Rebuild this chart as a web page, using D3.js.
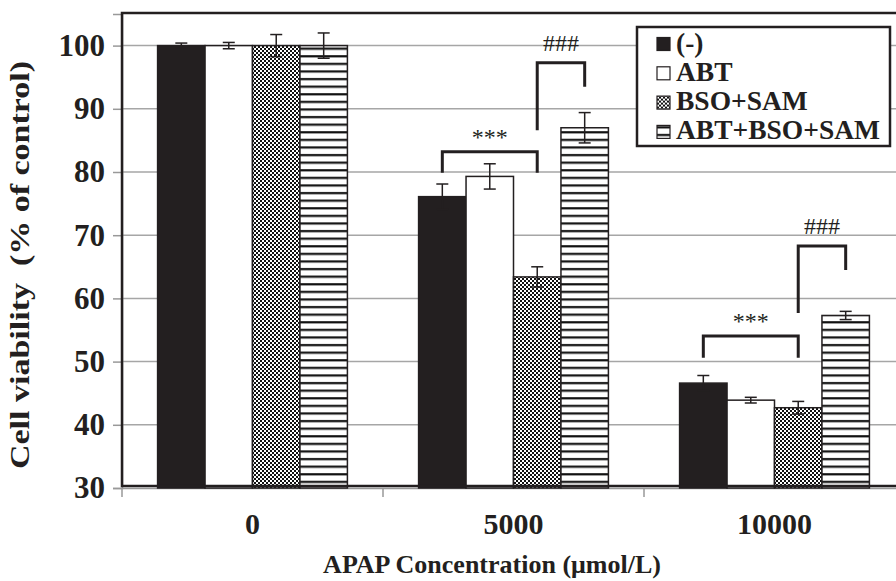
<!DOCTYPE html>
<html lang="en">

<head>
  <meta charset="utf-8">
  <title>Cell viability vs APAP concentration</title>
  <script src="https://cdnjs.cloudflare.com/ajax/libs/d3/7.6.1/d3.min.js"></script>
  <style>
    body { margin: 0; background: white; }
    svg { display: block; }
    text { font-family: 'Liberation Serif', 'Times New Roman', serif; }
  </style>
</head>

<body>

  <figure id="chart" style="margin:0"></figure>

  <script>
    // data

    const categories = ['0', '5000', '10000'];
    const seriesNames = ['(-)', 'ABT', 'BSO+SAM', 'ABT+BSO+SAM'];

    const valuesNone = [100, 76.1, 46.6];
    const valuesABT = [100, 79.3, 43.9];
    const valuesBSO = [100, 63.4, 42.7];
    const valuesAll = [100, 87.0, 57.3];

    const errorsNone = [0.4, 2.0, 1.2];
    const errorsABT = [0.5, 2.0, 0.45];
    const errorsBSO = [1.75, 1.6, 1.0];
    const errorsAll = [2.0, 2.4, 0.65];

    const yTickValues = [30, 40, 50, 60, 70, 80, 90, 100];

    // significance brackets: group, left bar, right bar, label, top, left leg end, right leg end
    const bracketGroups = ['5000', '5000', '10000', '10000'];
    const bracketFrom = ['(-)', 'BSO+SAM', '(-)', 'BSO+SAM'];
    const bracketTo = ['BSO+SAM', 'ABT+BSO+SAM', 'BSO+SAM', 'ABT+BSO+SAM'];
    const bracketLabels = ['***', '###', '***', '###'];
    const bracketTop = [83.2, 97.3, 54.05, 68.3];
    const bracketLeftEnd = [79.9, 86.6, 50.6, 57.7];
    const bracketRightEnd = [79.9, 93.5, 50.6, 64.5];

    const allValues = [valuesNone, valuesABT, valuesBSO, valuesAll];
    const allErrors = [errorsNone, errorsABT, errorsBSO, errorsAll];

    const data = [];
    categories.forEach((cat, i) => {
      seriesNames.forEach((name, j) => {
        data.push({ category: cat, series: name, value: allValues[j][i], error: allErrors[j][i] });
      });
    });

    createChart('figure#chart', data);

    function createChart(elementId, data) {

      const width = 896;
      const height = 581;
      const plot = { left: 122, right: 905, top: 14, bottom: 488 };
      const ink = '#231f20';

      const svg = d3.select(elementId)
        .append('svg')
        .attr('width', width)
        .attr('height', height);

      // fill patterns

      const defs = svg.append('defs');

      const checker = defs.append('pattern')
        .attr('id', 'checker')
        .attr('patternUnits', 'userSpaceOnUse')
        .attr('width', 4)
        .attr('height', 4);
      checker.append('rect').attr('width', 4).attr('height', 4).attr('fill', 'white');
      checker.append('rect').attr('width', 2).attr('height', 2).attr('fill', '#111');
      checker.append('rect').attr('x', 2).attr('y', 2).attr('width', 2).attr('height', 2).attr('fill', '#111');

      const stripes = defs.append('pattern')
        .attr('id', 'stripes')
        .attr('patternUnits', 'userSpaceOnUse')
        .attr('width', 10)
        .attr('height', 7.6);
      stripes.append('rect').attr('width', 10).attr('height', 7.6).attr('fill', 'white');
      stripes.append('rect').attr('y', 2).attr('width', 10).attr('height', 2.2).attr('fill', '#111');

      const fills = {
        '(-)': ink,
        'ABT': 'white',
        'BSO+SAM': 'url(#checker)',
        'ABT+BSO+SAM': 'url(#stripes)'
      };

      // scales

      const xScale = d3.scaleBand()
        .domain(categories)
        .range([plot.left, plot.right])
        .padding(0);

      const seriesScale = d3.scaleBand()
        .domain(seriesNames)
        .range([0, xScale.bandwidth()])
        .paddingInner(0)
        .paddingOuter(0.75);

      const yScale = d3.scaleLinear()
        .domain([30, 105])
        .range([plot.bottom, plot.top]);

      const barCenter = (cat, name) => xScale(cat) + seriesScale(name) + seriesScale.bandwidth() / 2;

      // grid lines

      svg.append('g')
        .selectAll('line')
        .data(yTickValues.filter(v => v > 30))
        .enter()
        .append('line')
        .attr('x1', plot.left)
        .attr('x2', plot.right)
        .attr('y1', d => yScale(d))
        .attr('y2', d => yScale(d))
        .attr('stroke', '#a6a6a6')
        .attr('stroke-width', 1.5);

      // y-axis

      const yAxis = d3.axisLeft(yScale)
        .tickValues(yTickValues)
        .tickSize(9)
        .tickPadding(8)
        .tickFormat(d3.format('d'));

      const yAxisG = svg.append('g')
        .attr('transform', `translate(${plot.left}, 0)`)
        .call(yAxis);
      yAxisG.select('.domain').attr('stroke', '#999').attr('stroke-width', 1.5);
      yAxisG.selectAll('.tick line').attr('stroke', '#999').attr('stroke-width', 1.5);
      yAxisG.selectAll('.tick text')
        .attr('font-family', 'Liberation Serif, serif')
        .attr('font-size', 31)
        .attr('font-weight', 'bold')
        .attr('fill', ink);

      // x-axis

      const xAxis = d3.axisBottom(xScale)
        .tickSize(0);

      const xAxisG = svg.append('g')
        .attr('transform', `translate(0, ${plot.bottom})`)
        .call(xAxis);
      xAxisG.select('.domain').attr('stroke', '#999').attr('stroke-width', 1.5);
      xAxisG.selectAll('.tick text')
        .attr('y', 46)
        .attr('dy', 0)
        .attr('font-family', 'Liberation Serif, serif')
        .attr('font-size', 30)
        .attr('font-weight', 'bold')
        .attr('fill', ink);

      // x-axis ticks sit between the categories
      svg.append('g')
        .selectAll('line')
        .data(categories.concat(['end']))
        .enter()
        .append('line')
        .attr('x1', (d, i) => plot.left + i * xScale.step())
        .attr('x2', (d, i) => plot.left + i * xScale.step())
        .attr('y1', plot.bottom)
        .attr('y2', plot.bottom + 9)
        .attr('stroke', '#999')
        .attr('stroke-width', 1.5);

      // bars

      svg.append('g')
        .selectAll('rect')
        .data(data)
        .enter()
        .append('rect')
        .attr('x', d => xScale(d.category) + seriesScale(d.series))
        .attr('y', d => yScale(d.value))
        .attr('width', seriesScale.bandwidth())
        .attr('height', d => yScale(30) - yScale(d.value))
        .attr('fill', d => fills[d.series])
        .attr('stroke', ink)
        .attr('stroke-width', 1.5);

      // error bars

      const errG = svg.append('g')
        .attr('stroke', ink)
        .attr('stroke-width', 1.5);

      data.forEach(d => {
        const cx = barCenter(d.category, d.series);
        const yHi = yScale(d.value + d.error);
        const yLo = yScale(d.value - d.error);
        errG.append('line').attr('x1', cx).attr('x2', cx).attr('y1', yHi).attr('y2', yLo);
        errG.append('line').attr('x1', cx - 6).attr('x2', cx + 6).attr('y1', yHi).attr('y2', yHi);
        errG.append('line').attr('x1', cx - 6).attr('x2', cx + 6).attr('y1', yLo).attr('y2', yLo);
      });

      // plot frame

      svg.append('rect')
        .attr('x', plot.left)
        .attr('y', plot.top - 1)
        .attr('width', plot.right - plot.left)
        .attr('height', plot.bottom - plot.top - 1)
        .attr('fill', 'none')
        .attr('stroke', ink)
        .attr('stroke-width', 2.5);

      // significance brackets

      const brG = svg.append('g');
      bracketGroups.forEach((g, i) => {
        const x1 = barCenter(g, bracketFrom[i]);
        const x2 = barCenter(g, bracketTo[i]);
        const yTop = yScale(bracketTop[i]);
        const isStars = bracketLabels[i] === '***';
        brG.append('path')
          .attr('d', `M${x1},${yScale(bracketLeftEnd[i])}V${yTop}H${x2}V${yScale(bracketRightEnd[i])}`)
          .attr('fill', 'none')
          .attr('stroke', ink)
          .attr('stroke-width', 3);
        brG.append('text')
          .attr('x', (x1 + x2) / 2)
          .attr('y', isStars ? yTop - 7 : yTop - 12)
          .attr('text-anchor', 'middle')
          .attr('font-size', 24)
          .attr('fill', ink)
          .text(bracketLabels[i]);
      });

      // legend

      const legend = svg.append('g')
        .attr('transform', 'translate(637, 27)');

      legend.append('rect')
        .attr('width', 253)
        .attr('height', 119)
        .attr('fill', 'white')
        .attr('stroke', ink)
        .attr('stroke-width', 2.5);

      const items = legend.selectAll('g.item')
        .data(seriesNames)
        .enter()
        .append('g')
        .attr('class', 'item')
        .attr('transform', (d, i) => `translate(20, ${17 + i * 29.3})`);

      items.append('rect')
        .attr('x', 0)
        .attr('y', -6.5)
        .attr('width', 13)
        .attr('height', 13)
        .attr('fill', d => fills[d])
        .attr('stroke', ink)
        .attr('stroke-width', 1.2);

      items.append('text')
        .attr('x', 19)
        .attr('y', 7.5)
        .attr('font-size', 27.5)
        .attr('font-weight', 'bold')
        .attr('fill', ink)
        .text(d => d);

      // axis titles

      svg.append('text')
        .attr('x', 492)
        .attr('y', 573)
        .attr('text-anchor', 'middle')
        .attr('font-size', 26)
        .attr('font-weight', 'bold')
        .attr('fill', ink)
        .text('APAP Concentration (\u03bcmol/L)');

      svg.append('text')
        .attr('transform', 'translate(29, 265) rotate(-90)')
        .attr('text-anchor', 'middle')
        .attr('font-size', 27)
        .attr('font-weight', 'bold')
        .attr('fill', ink)
        .attr('textLength', 408)
        .attr('lengthAdjust', 'spacingAndGlyphs')
        .style('white-space', 'pre')
        .text('Cell viability  (% of control)');
    }
  </script>

</body>

</html>
